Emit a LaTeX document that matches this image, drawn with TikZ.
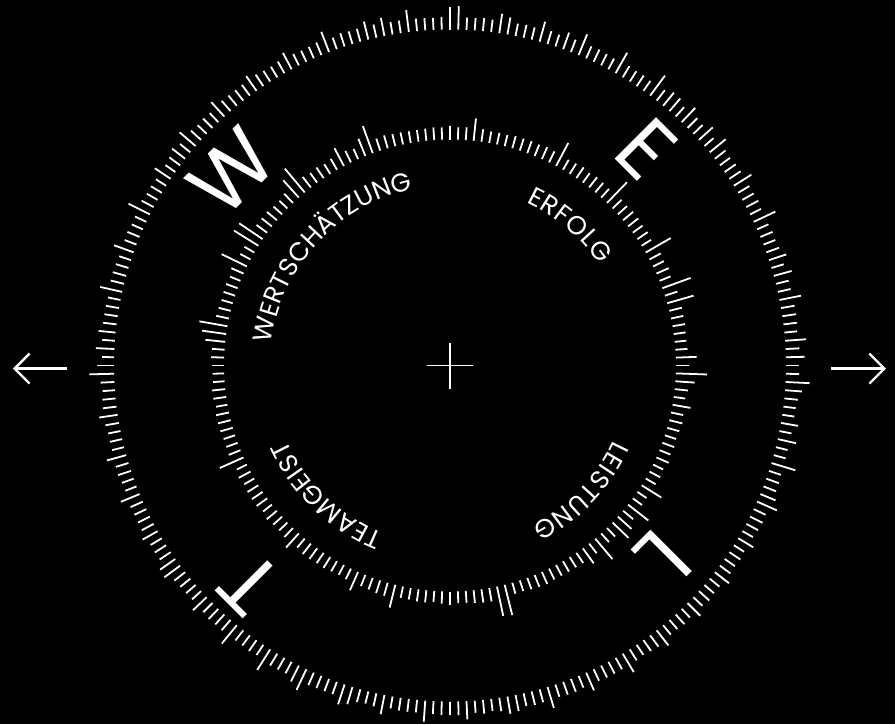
\documentclass[tikz,border=0pt]{standalone}
\usepackage{fontspec}
\setmainfont{Poppins}
\usetikzlibrary{decorations.text,arrows.meta}
\begin{document}
\begin{tikzpicture}[x=1pt,y=1pt,
  tk/.style={white,line width=1.8pt},
  bigletter/.style={text=white,inner sep=0pt,font=\fontsize{84}{84}\selectfont},
  arw/.style={white,line width=2.3pt,-{Straight Barb[length=15pt,width=30pt]}},
  ringlabel/.style={decorate,decoration={text along path,text color=white,text align=fit to path,text={|\fontsize{26}{26}\selectfont|#1}}}]
\fill[black] (-450,-358.5) rectangle (445,365.5);
\useasboundingbox (-450,-358.5) rectangle (445,365.5);
% outer ring of ticks
\pgfmathsetseed{11}
\foreach \i in {0,...,255}{
  \pgfmathsetmacro\ang{90+\i*1.40625}
  \pgfmathsetmacro\ru{rnd}
  \pgfmathsetmacro\rv{rnd}
  \pgfmathsetmacro\len{ifthenelse(mod(\i,5)==0,17+8*\ru,ifthenelse(\rv>0.88,16+3*\ru,12+2*\ru))}
  \pgfmathsetmacro\ro{336+\len}
  \draw[tk] (\ang:336) -- (\ang:\ro);
}
% inner ring of ticks
\foreach \i in {0,...,179}{
  \pgfmathsetmacro\ang{90+\i*2}
  \pgfmathsetmacro\ru{rnd}
  \pgfmathsetmacro\rv{rnd}
  \pgfmathsetmacro\len{ifthenelse(\rv>0.78,18+14*\ru,11+2.5*\ru)}
  \pgfmathsetmacro\ro{226+\len}
  \draw[tk] (\ang:226) -- (\ang:\ro);
}
% ring labels
\path[ringlabel={WERTSCHÄTZUNG}] (173:180) arc[start angle=173,end angle=102,radius=180];
\path[ringlabel={ERFOLG}] (65:180) arc[start angle=65,end angle=34,radius=180];
\path[ringlabel={LEISTUNG}] (-24.5:180) arc[start angle=-24.5,end angle=-63,radius=180];
\path[ringlabel={TEAMGEIST}] (-111.5:180) arc[start angle=-111.5,end angle=-155.5,radius=180];
% big letters
\node[bigletter,rotate=45] (w) at (138.4:291.5) {W};
\node[bigletter,rotate=-45] (e) at (47.8:292) {E};
\node[bigletter,rotate=-135] (l) at (-42.2:288) {L};
\node[bigletter,rotate=135] (t) at (-132.5:297) {T};
% centre cross
\coordinate (c) at (0,0);
\draw[white,line width=1.6pt] ([xshift=-23pt]c) -- ([xshift=23pt]c);
\draw[white,line width=1.6pt] ([yshift=-23pt]c) -- ([yshift=23pt]c);
% side arrows
\coordinate (la0) at (-383,-3);
\coordinate (la1) at (-437,-3);
\coordinate (ra0) at (381,-3);
\coordinate (ra1) at (436,-3);
\draw[arw] (la0) -- (la1);
\draw[arw] (ra0) -- (ra1);
\end{tikzpicture}
\end{document}
